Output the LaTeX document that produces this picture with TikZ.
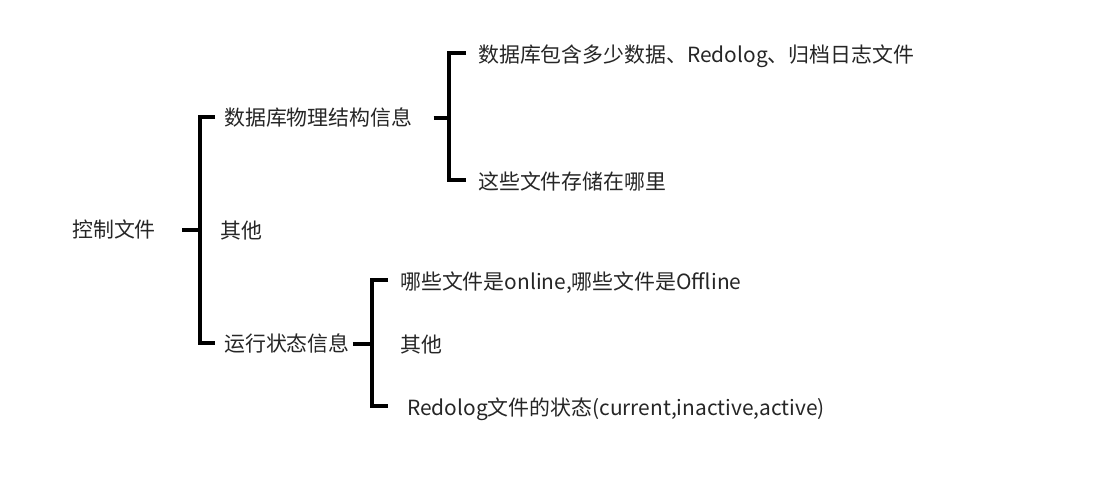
\documentclass[tikz,border=0pt]{standalone}
\usepackage{fontspec}
\setmainfont{Noto Sans CJK SC}
\begin{document}
\begin{tikzpicture}[x=1pt,y=-1pt,
  lbl/.style={anchor=base west,inner sep=0pt,font=\fontsize{20.9pt}{24pt}\selectfont,text=black!85},
  link/.style={draw=black,line width=3.2pt,line cap=butt,line join=miter}]
\useasboundingbox[fill=white] (0,0) rectangle (1114,477);
% nodes (baseline = visual centre + 7.5)
\node[lbl] (root) at (72,237.5) {控制文件};
\node[lbl] (a) at (224,125.5) {数据库物理结构信息};
\node[lbl] (b) at (220,238.5) {其他};
\node[lbl] (c) at (224,351.5) {运行状态信息};
\node[lbl] (a1) at (478,62.5) {数据库包含多少数据、Redolog、归档日志文件};
\node[lbl] (a2) at (478,189.5) {这些文件存储在哪里};
\node[lbl] (c1) at (400,289.5) {哪些文件是online,哪些文件是Offline};
\node[lbl] (c2) at (400,352.5) {其他};
\node[lbl] (c3) at (407,415.5) {Redolog文件的状态(current,inactive,active)};
% junctions
\coordinate (rj) at (200,230);
\coordinate (aj) at (449,118);
\coordinate (cj) at (372,344);
% root bracket
\draw[link] ([xshift=26pt,yshift=7.5pt]root.base east) -- (rj);
\draw[link] ([xshift=-9pt,yshift=8.5pt]a.base west) -| (rj) |- ([xshift=-9pt,yshift=8.5pt]c.base west);
% second bracket
\draw[link] ([xshift=21pt,yshift=7.5pt]a.base east) -- (aj);
\draw[link] ([xshift=-12pt,yshift=9.5pt]a1.base west) -| (aj) |- ([xshift=-12pt,yshift=9.5pt]a2.base west);
% third bracket
\draw[link] ([xshift=3pt,yshift=7.5pt]c.base east) -- (cj);
\draw[link] ([xshift=-12pt,yshift=9.5pt]c1.base west) -| (cj) |- ([xshift=-19pt,yshift=9.5pt]c3.base west);
\end{tikzpicture}
\end{document}
